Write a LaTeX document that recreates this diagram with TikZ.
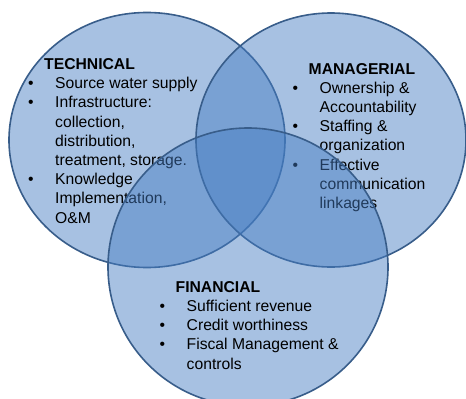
\documentclass[tikz,border=0pt]{standalone}
\usepackage{fontspec}
\setmainfont{Liberation Sans}
\usepackage{xcolor}
\usetikzlibrary{shapes.geometric, positioning}
\definecolor{vennblue}{RGB}{70,125,195}
\definecolor{vennedge}{RGB}{56,93,138}
\newcommand{\blt}{\makebox[27pt][l]{\textbullet}}
\newcommand{\cnt}{\hspace*{27pt}}
\newcommand{\hd}[1]{\hspace*{16pt}\textbf{#1}}

\begin{document}
\begin{tikzpicture}[
        x=1pt, y=-1pt,
        venn/.style={ellipse, draw=vennedge, line width=1.6pt, fill=vennblue, fill opacity=0.47, inner sep=0pt},
        vtext/.style={align=left, inner sep=0pt, anchor=base west, font=\fontsize{15.7}{19.2}\selectfont}
        ]
        \clip (0,0) rectangle (466,399);
        \fill[white] (0,0) rectangle (466,399);
        
        % Technical (text placed at baseline of its last line)
        \node[venn, minimum width=276pt, minimum height=255pt] (tech) at (147,140) {};
        \node[vtext] (techtext) at (28,223) {\hd{TECHNICAL}\\
            \blt Source water supply\\
            \blt Infrastructure:\\
            \cnt collection,\\
            \cnt distribution,\\
            \cnt treatment, storage.\\
            \blt Knowledge\\
            \cnt Implementation,\\
            \cnt O\&M};
        
        % Managerial
        \node[venn, minimum width=270pt, minimum height=254pt] (manag) at (331,140) {};
        \node[vtext] (managtext) at (292.5,208.5) {\hd{MANAGERIAL}\\
            \blt Ownership \&\\
            \cnt Accountability\\
            \blt Staffing \&\\
            \cnt organization\\
            \blt Effective\\
            \cnt communication\\
            \cnt linkages};
        
        % Financial
        \node[venn, minimum width=280pt, minimum height=278pt] (fin) at (248,267) {};
        \node[vtext] (fintext) at (159.5,369) {\hd{FINANCIAL}\\
            \blt Sufficient revenue\\
            \blt Credit worthiness\\
            \blt Fiscal Management \&\\
            \cnt controls};
        
        \end{tikzpicture}
\end{document}
